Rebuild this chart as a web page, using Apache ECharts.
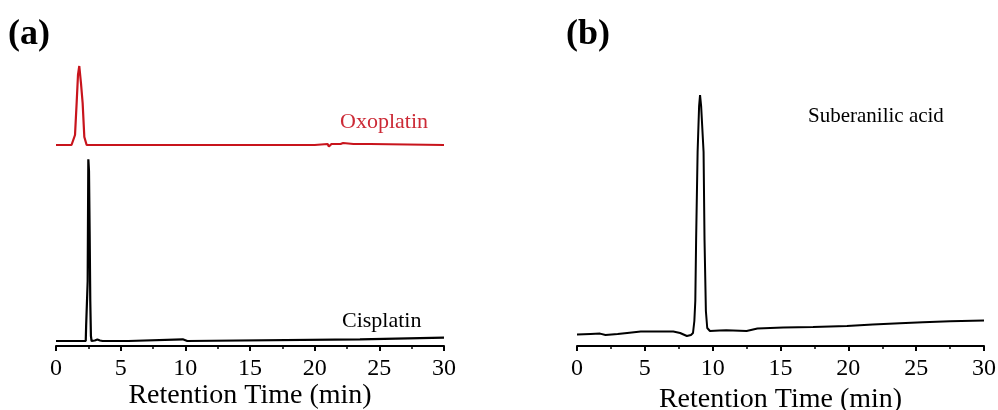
<!DOCTYPE html>
<html>
<head>
<meta charset="utf-8">
<script src="https://cdn.jsdelivr.net/npm/echarts@6/dist/echarts.min.js"></script>
<style>
html,body{margin:0;padding:0;background:#fff;}
#chart{width:998px;height:410px;}
</style>
</head>
<body>
<div id="chart"></div>
<script>
// ---- Data ----
var xTicks = [0, 5, 10, 15, 20, 25, 30];
var axisTitle = 'Retention Time (min)';

// Panel (a) – Oxoplatin (red trace, upper)
var oxoTime   = [0, 1.2, 1.34, 1.47, 1.6, 1.7, 1.8, 1.93, 2.06, 2.19, 2.37, 2.6, 20.0, 20.1, 21.0, 21.1, 21.2, 21.3, 22.0, 22.2, 22.35, 23.0, 24.3, 24.45, 30];
var oxoSignal = [0, 0, 0, 10, 43, 70, 79, 62, 42, 8, 0, 0, 0, 1, 1, -1.5, 0, 1, 1, 2, 1, 1, 1, 0, 0];

// Panel (a) – Cisplatin (black trace, lower)
var cisTime   = [0, 1.85, 1.9, 1.95, 2.3, 2.33, 2.4, 2.45, 2.5, 2.55, 2.6, 2.65, 2.7, 2.75, 2.85, 3.0, 3.2, 3.4, 3.5, 3.6, 5.6, 5.7, 9.8, 9.85, 10.15, 10.2, 23.5, 23.6, 30];
var cisSignal = [0, 0, 1.5, 0, 0, 15, 16, 60, 181.7, 170, 110, 40, 5, 0, 1.5, 0.5, 1.5, 0.5, 1.5, 0, 0, 1.7, 1.7, 0, 0, 1.7, 1.7, 3.3, 3.3];

// Panel (b) – Suberanilic acid
var subTime   = [0, 1.0, 1.7, 2.1, 3.0, 3.7, 4.7, 6.0, 7.1, 7.6, 8.1, 8.4, 8.55, 8.65, 8.72, 8.78, 8.89, 9.0, 9.07, 9.15, 9.33, 9.4, 9.5, 9.6, 9.8, 10.5, 11.0, 12.5, 13.3, 15.2, 17.4, 19.9, 21.8, 23.8, 25.5, 27.5, 30];
var subSignal = [11.4, 12, 12.4, 11, 12, 13, 14.4, 14.6, 14.4, 13, 10, 11, 13, 25, 45, 106, 194, 240, 251, 240, 194, 106, 35, 18, 15, 15.5, 15.7, 15, 17.4, 18.4, 19, 20, 21.4, 22.7, 23.7, 24.7, 25.4];

var traceLabels = ['Oxoplatin', 'Cisplatin', 'Suberanilic acid'];
var panelLabels = ['(a)', '(b)'];

function zip(xs, ys) { return xs.map(function (x, i) { return [x, ys[i]]; }); }

var FONT = '"Liberation Serif", "Times New Roman", serif';

function visibleXAxis(gridIndex) {
  return {
    type: 'value', gridIndex: gridIndex, min: xTicks[0], max: xTicks[xTicks.length - 1],
    interval: xTicks[1] - xTicks[0],
    name: axisTitle, nameLocation: 'middle', nameGap: 36,
    nameTextStyle: { fontFamily: FONT, fontSize: 28, color: '#000' },
    axisLine: { show: true, onZero: false, lineStyle: { color: '#000', width: 2 } },
    axisTick: { show: true, inside: false, length: 5, lineStyle: { color: '#000', width: 2 } },
    minorTick: { show: true, splitNumber: 2, length: 3, lineStyle: { color: '#000', width: 1.5 } },
    axisLabel: { fontFamily: FONT, fontSize: 24, color: '#000', margin: 11 },
    splitLine: { show: false }, minorSplitLine: { show: false }
  };
}

var chart = echarts.init(document.getElementById('chart'), null, { renderer: 'canvas' });
chart.setOption({
  animation: false,
  backgroundColor: '#fff',
  grid: [
    { left: 56, width: 388, top: 61, height: 90, outerBoundsMode: 'none', containLabel: false },
    { left: 56, width: 388, top: 156, height: 190, outerBoundsMode: 'none', containLabel: false },
    { left: 577, width: 407, top: 86, height: 260, outerBoundsMode: 'none', containLabel: false }
  ],
  xAxis: [
    { type: 'value', gridIndex: 0, min: 0, max: 30, show: false },
    visibleXAxis(1),
    visibleXAxis(2)
  ],
  yAxis: [
    { type: 'value', gridIndex: 0, min: -6, max: 84, show: false },
    { type: 'value', gridIndex: 1, min: -5, max: 185, show: false },
    { type: 'value', gridIndex: 2, min: 0, max: 260, show: false }
  ],
  series: [
    { type: 'line', name: traceLabels[0], xAxisIndex: 0, yAxisIndex: 0, data: zip(oxoTime, oxoSignal),
      showSymbol: false, lineStyle: { color: '#c8141c', width: 2.2 } },
    { type: 'line', name: traceLabels[1], xAxisIndex: 1, yAxisIndex: 1, data: zip(cisTime, cisSignal),
      showSymbol: false, lineStyle: { color: '#000', width: 2.2 } },
    { type: 'line', name: traceLabels[2], xAxisIndex: 2, yAxisIndex: 2, data: zip(subTime, subSignal),
      showSymbol: false, lineStyle: { color: '#000', width: 2 } }
  ],
  graphic: [
    { type: 'text', x: 8, y: 35, style: { text: panelLabels[0], font: 'bold 36px ' + FONT, fill: '#000', verticalAlign: 'middle' } },
    { type: 'text', x: 566, y: 35, style: { text: panelLabels[1], font: 'bold 36px ' + FONT, fill: '#000', verticalAlign: 'middle' } },
    { type: 'text', x: 340, y: 122, style: { text: traceLabels[0], font: '22px ' + FONT, fill: '#cc2a36', verticalAlign: 'middle' } },
    { type: 'text', x: 342, y: 321, style: { text: traceLabels[1], font: '22px ' + FONT, fill: '#000', verticalAlign: 'middle' } },
    { type: 'text', x: 808, y: 116, style: { text: traceLabels[2], font: '21px ' + FONT, fill: '#000', verticalAlign: 'middle' } }
  ]
});
</script>
</body>
</html>
